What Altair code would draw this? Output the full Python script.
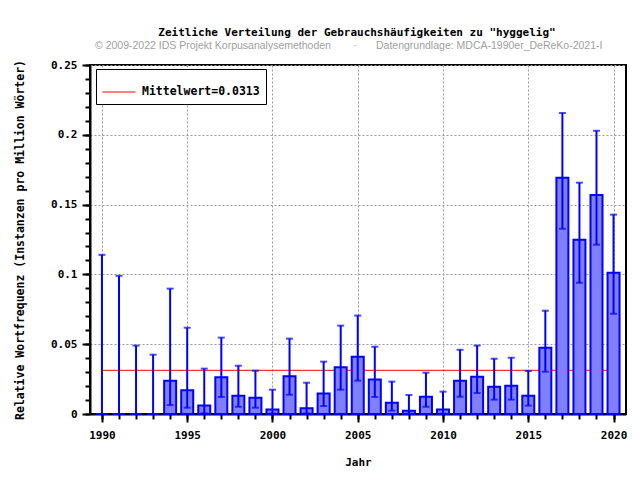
import altair as alt
import pandas as pd

years = list(range(1990, 2021))
values = [0, 0, 0, 0, 0.0239, 0.0170, 0.0060, 0.0263, 0.0131, 0.0117, 0.0033,
          0.0270, 0.0041, 0.0146, 0.0334, 0.0410, 0.0248, 0.0081, 0.0024, 0.0124,
          0.0033, 0.0239, 0.0267, 0.0196, 0.0203, 0.0131, 0.0475, 0.1693, 0.1249,
          0.1569, 0.1012]
lows = [0, 0, 0, 0, 0.0064, 0.0045, 0.0005, 0.0122, 0.0052, 0.0045, 0.0003,
        0.0138, 0.0004, 0.0057, 0.0174, 0.0239, 0.0122, 0.0024, 0.0002, 0.0052,
        0.0003, 0.0124, 0.0150, 0.0103, 0.0103, 0.0060, 0.0303, 0.1327, 0.0940,
        0.1213, 0.0718]
highs = [0.114, 0.099, 0.049, 0.0425, 0.0898, 0.0618, 0.0325, 0.0547, 0.0346,
         0.031, 0.0174, 0.054, 0.0224, 0.0375, 0.0633, 0.0705, 0.0482, 0.0232,
         0.0136, 0.0296, 0.016, 0.046, 0.049, 0.0396, 0.0403, 0.0308, 0.074,
         0.2156, 0.1657, 0.2029, 0.1428]
mean_value = 0.0313
mean_label = "Mittelwert=0.0313"
x_major = [1990, 1995, 2000, 2005, 2010, 2015, 2020]
y_major = [0, 0.05, 0.1, 0.15, 0.2, 0.25]
y_minor = [round(i * 0.01, 2) for i in range(26)]

title_text = 'Zeitliche Verteilung der Gebrauchshäufigkeiten zu "hyggelig"'
sub_left = "© 2009-2022 IDS Projekt Korpusanalysemethoden"
sub_dot = "·"
sub_right = "Datengrundlage: MDCA-1990er_DeReKo-2021-I"

df = pd.DataFrame({"Jahr": years, "value": values, "low": lows, "high": highs})
mean_df = pd.DataFrame({"x": [1990], "x2": [2020], "y": [mean_value], "series": [mean_label]})
one = pd.DataFrame({"a": [0]})

MONO = "DejaVu Sans Mono"
W, H = 536, 349
xdom = alt.Scale(domain=[1989.3, 2020.73], nice=False, zero=False, padding=0)
ydom = alt.Scale(domain=[0, 0.25], nice=False, padding=0)

# minor ticks + mean line + legend
mean_layer = alt.Chart(mean_df).mark_rule(color="red", strokeWidth=1).encode(
    x=alt.X("x:Q", scale=xdom, axis=alt.Axis(values=years, labels=False, title=None,
            grid=False, domain=False, tickSize=5, tickWidth=2, tickColor="black", orient="bottom")),
    x2="x2:Q",
    y=alt.Y("y:Q", scale=ydom, axis=alt.Axis(values=y_minor, labels=False, title=None,
            grid=False, domain=False, tickSize=5, tickWidth=2, tickColor="black", orient="left")),
    color=alt.Color("series:N", scale=alt.Scale(range=["red"]),
                    legend=alt.Legend(title=None, orient="none", legendX=6, legendY=4,
                                      strokeColor="black", fillColor="white", padding=6,
                                      symbolType="stroke", symbolSize=1089, symbolStrokeWidth=1,
                                      labelFont=MONO, labelFontWeight="bold", labelFontSize=11.5,
                                      labelColor="black", labelOffset=6)),
)

bars = alt.Chart(df).mark_bar(size=12, fill="#8080ff", stroke="#0000ff", strokeWidth=2).encode(
    x=alt.X("Jahr:Q", scale=xdom, axis=alt.Axis(values=x_major, format="d", title="Jahr",
            grid=True, gridColor="#999999", gridDash=[2, 2], gridWidth=1,
            tickSize=8, tickWidth=2, tickColor="black", domainColor="black", domainWidth=2,
            labelFont=MONO, labelFontWeight="bold", labelFontSize=11, labelColor="black",
            labelPadding=7, titleFont=MONO, titleFontWeight="bold", titleFontSize=11,
            titleColor="black", titleY=48, titleBaseline="middle", orient="bottom")),
    y=alt.Y("value:Q", scale=ydom, axis=alt.Axis(values=y_major, format=".2~f",
            title="Relative Wortfrequenz (Instanzen pro Million Wörter)",
            grid=True, gridColor="#999999", gridDash=[2, 2], gridWidth=1,
            tickSize=8, tickWidth=2, tickColor="black", domainColor="black", domainWidth=2,
            labelFont=MONO, labelFontWeight="bold", labelFontSize=11, labelColor="black",
            labelPadding=5, titleFont=MONO, titleFontWeight="bold", titleFontSize=11.5,
            titleColor="black", titleX=-70, titleY=H / 2, titleBaseline="middle",
            orient="left")),
    y2=alt.Y2(datum=0),
)

err = alt.Chart(df).mark_rule(color="#0000ff", strokeWidth=2).encode(
    x=alt.X("Jahr:Q", scale=xdom, axis=None),
    y=alt.Y("low:Q", scale=ydom, axis=None),
    y2="high:Q",
)
cap_hi = alt.Chart(df).mark_tick(color="#0000ff", orient="horizontal", size=7, thickness=2).encode(
    x=alt.X("Jahr:Q", scale=xdom, axis=None),
    y=alt.Y("high:Q", scale=ydom, axis=None),
)
cap_lo = alt.Chart(df).mark_tick(color="#0000ff", orient="horizontal", size=7, thickness=2).encode(
    x=alt.X("Jahr:Q", scale=xdom, axis=None),
    y=alt.Y("low:Q", scale=ydom, axis=None),
)

title = alt.Chart(one).mark_text(font=MONO, fontWeight="bold", fontSize=11, color="black",
                                 align="center", baseline="middle").encode(
    x=alt.value(267), y=alt.value(-32), text=alt.value(title_text))
s1 = alt.Chart(one).mark_text(font="Liberation Sans", fontSize=10.5, color="#a0a0a0",
                              align="left", baseline="middle").encode(
    x=alt.value(5), y=alt.value(-19), text=alt.value(sub_left))
s2 = alt.Chart(one).mark_text(font="Liberation Sans", fontSize=10.5, color="#a0a0a0",
                              align="center", baseline="middle").encode(
    x=alt.value(265), y=alt.value(-19), text=alt.value(sub_dot))
s3 = alt.Chart(one).mark_text(font="Liberation Sans", fontSize=10.5, color="#a0a0a0",
                              align="left", baseline="middle").encode(
    x=alt.value(286), y=alt.value(-19), text=alt.value(sub_right))

chart = alt.layer(mean_layer, bars, err, cap_hi, cap_lo, title, s1, s2, s3).resolve_axis(
    x="independent", y="independent"
).properties(
    width=W, height=H,
    autosize=alt.AutoSizeParams(type="none"),
    padding={"left": 82, "top": 57, "right": 6, "bottom": 58},
    background="white",
).configure_view(stroke="black", strokeWidth=2)

chart.save("out.html", embed_options={"renderer": "svg", "actions": False})
